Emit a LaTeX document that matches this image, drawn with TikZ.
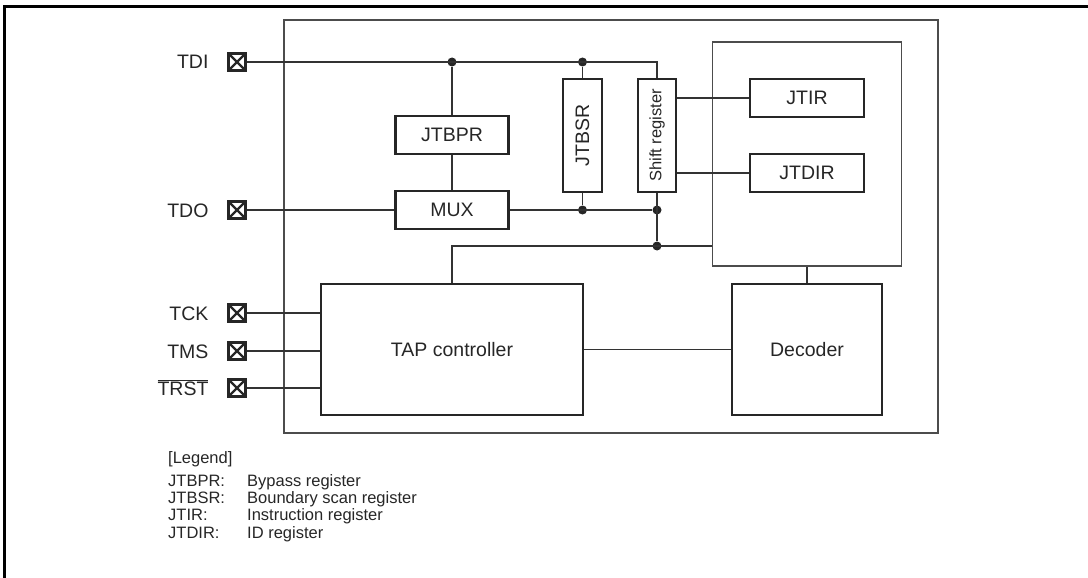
\documentclass[tikz,border=0pt]{standalone}
\usepackage{fontspec}
\setmainfont{Liberation Sans}
\usepackage{tikz}
\usetikzlibrary{positioning}
\newcommand{\lblfont}{\fontsize{19.5}{23}\selectfont}
\newcommand{\smlfont}{\fontsize{16.5}{19}\selectfont}

\begin{document}
\begin{tikzpicture}[x=1pt, y=-1pt,
  reg/.style={
    draw=black!85, line width=2.8pt, inner sep=0pt,
    font=\lblfont, text=black!85
  },
  outline/.style={draw=black!70, line width=1.5pt, inner sep=0pt},
  wire/.style={draw=black!80, line width=1.1pt},
  dot/.style={circle, fill=black!85, inner sep=0pt, minimum size=9pt},
  pin/.style={
    draw=black!85, line width=3pt, inner sep=0pt, minimum size=17pt,
    path picture={
      \draw[black!85, line width=2.4pt]
        (path picture bounding box.south west) -- (path picture bounding box.north east)
        (path picture bounding box.north west) -- (path picture bounding box.south east);
    }
  },
  pinlbl/.style={anchor=base east, font=\lblfont, text=black!85},
  legtxt/.style={anchor=base west, font=\smlfont, text=black!85, inner sep=0pt}]

\useasboundingbox (0,0) rectangle (1088,578);

% Page frame (top and left edges only)
\draw[black, line width=3pt] (4.8,578) -- (4.8,6.5) -- (1088,6.5);

% Chip outline and register block
\node[outline, minimum width=654pt, minimum height=413pt] (chip) at (611,226.5) {};
\node[outline, minimum width=189pt, minimum height=224pt] (irblk) at (807,154) {};

% Registers
\node[reg, minimum width=114pt, minimum height=38pt] (jtir) at (807,98) {JTIR};
\node[reg, minimum width=114pt, minimum height=38pt] (jtdir) at (807,173) {JTDIR};
\node[reg, minimum width=113pt, minimum height=38pt] (jtbpr) at (452,135) {JTBPR};
\node[reg, minimum width=113pt, minimum height=38pt] (mux) at (452,210) {MUX};
\node[reg, minimum width=39pt, minimum height=113pt] (jtbsr) at (582.5,135.5)
  {\rotatebox{90}{JTBSR}};
\node[reg, minimum width=38pt, minimum height=113pt, font=\smlfont] (shift) at (657,135.5)
  {\rotatebox{90}{Shift register}};

% Controller and decoder
\node[reg, minimum width=262pt, minimum height=131pt] (tap) at (452,349.5) {TAP controller};
\node[reg, minimum width=150pt, minimum height=131pt] (dec) at (807,349.5) {Decoder};

% Pins
\node[pin] (pTDI) at (237,62) {};
\node[pin] (pTDO) at (237,210) {};
\node[pin] (pTCK) at (237,313) {};
\node[pin] (pTMS) at (237,351) {};
\node[pin] (pTRST) at (237,388) {};

\node[pinlbl] (lTDI) at (212,69) {TDI};
\node[pinlbl] (lTDO) at (212,217) {TDO};
\node[pinlbl] (lTCK) at (212,320) {TCK};
\node[pinlbl] (lTMS) at (212,358) {TMS};
\node[pinlbl] (lTRST) at (212,395) {\(\overline{\mbox{TRST}}\)};

% Junction dots
\node[dot] (d1) at (jtbpr |- pTDI) {};
\node[dot] (d2) at (jtbsr |- pTDI) {};
\node[dot] (d3) at (jtbsr |- mux) {};
\node[dot] (d4) at (shift |- mux) {};
\node[dot] (d5) at (657,246) {};
\coordinate (cTop) at (shift |- pTDI);

% TDI scan path
\draw[wire] (pTDI.east) -- (cTop) -- (shift.north);
\draw[wire] (d1) -- (jtbpr.north);
\draw[wire] (jtbpr.south) -- (mux.north);
\draw[wire] (d2) -- (jtbsr.north);

% TDO side
\draw[wire] (pTDO.east) -- (mux.west);
\draw[wire] (mux.east) -- (d4);
\draw[wire] (jtbsr.south) -- (d3);
\draw[wire] (shift.south) -- (d5);
\draw[wire] (tap.north) |- (irblk.west |- d5);

% Shift register to instruction / ID registers
\draw[wire] (shift.east |- jtir) -- (jtir.west);
\draw[wire] (shift.east |- jtdir) -- (jtdir.west);

% Control signals
\draw[wire] (irblk.south) -- (dec.north);
\draw[wire] (tap.east) -- (dec.west);
\draw[wire] (pTCK.east) -- (tap.west |- pTCK);
\draw[wire] (pTMS.east) -- (tap.west |- pTMS);
\draw[wire] (pTRST.east) -- (tap.west |- pTRST);

% Legend
\node[legtxt] (leg) at (168,463) {[Legend]};
\node[legtxt] (k1) at (168,486) {JTBPR:};
\node[legtxt] (k2) at (168,503) {JTBSR:};
\node[legtxt] (k3) at (168,520) {JTIR:};
\node[legtxt] (k4) at (168,538) {JTDIR:};
\node[legtxt] (v1) at (247,486) {Bypass register};
\node[legtxt] (v2) at (247,503) {Boundary scan register};
\node[legtxt] (v3) at (247,520) {Instruction register};
\node[legtxt] (v4) at (247,538) {ID register};

\end{tikzpicture}
\end{document}
